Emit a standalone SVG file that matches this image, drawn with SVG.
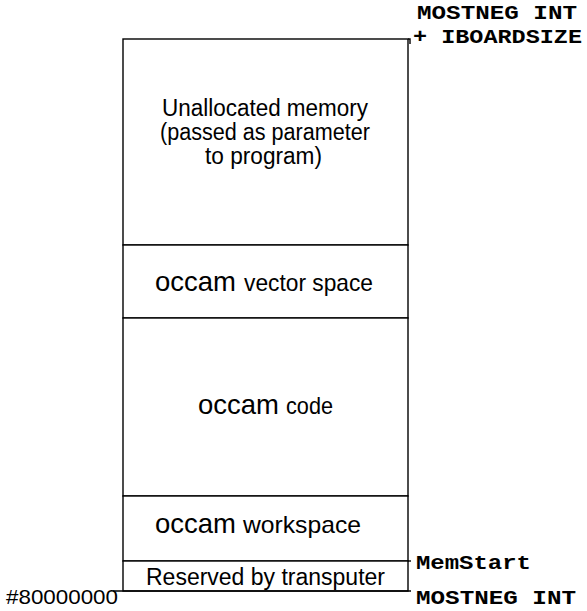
<svg xmlns="http://www.w3.org/2000/svg" width="587" height="611" viewBox="0 0 587 611">
<style>
.box{fill:#fff;stroke:#000;stroke-width:1.4}
.ln{fill:none;stroke:#000;stroke-width:1.4}
.s{font-family:"Liberation Sans",Arial,sans-serif;fill:#000}
.o{font-size:28.5px}
.w{font-size:24px}
.m{font-family:"Liberation Mono","Courier New",monospace;font-weight:bold;fill:#000;font-size:21px}
</style>
<rect width="587" height="611" fill="#fff"/>
<g id="unallocated">
<rect class="box" x="123" y="39" width="285" height="206"/>
<text class="s" font-size="23.5"><tspan x="162" y="116" textLength="206" lengthAdjust="spacingAndGlyphs">Unallocated memory</tspan><tspan x="160" y="140" textLength="210" lengthAdjust="spacingAndGlyphs">(passed as parameter</tspan><tspan x="205" y="164" textLength="117" lengthAdjust="spacingAndGlyphs">to program)</tspan></text>
</g>
<g id="vector">
<rect class="box" x="123" y="245" width="285" height="73"/>
<text class="s"><tspan class="o" x="155" y="291" textLength="81" lengthAdjust="spacingAndGlyphs">occam</tspan><tspan class="w" x="244" y="291" textLength="129" lengthAdjust="spacingAndGlyphs">vector space</tspan></text>
</g>
<g id="code">
<rect class="box" x="123" y="318" width="285" height="178"/>
<text class="s"><tspan class="o" x="198" y="414" textLength="81" lengthAdjust="spacingAndGlyphs">occam</tspan><tspan class="w" x="286" y="414" textLength="47" lengthAdjust="spacingAndGlyphs">code</tspan></text>
</g>
<g id="workspace">
<rect class="box" x="123" y="496" width="285" height="65"/>
<text class="s"><tspan class="o" x="155" y="533" textLength="81" lengthAdjust="spacingAndGlyphs">occam</tspan><tspan class="w" x="243" y="533" textLength="118" lengthAdjust="spacingAndGlyphs">workspace</tspan></text>
</g>
<g id="reserved">
<rect class="box" x="123" y="561" width="285" height="30"/>
<text class="s" x="146" y="585" font-size="23" textLength="239" lengthAdjust="spacingAndGlyphs">Reserved by transputer</text>
</g>
<g id="connectors">
<path class="ln" d="M408 39 H410 V44"/>
<path class="ln" d="M408 561 H411"/>
<path class="ln" d="M113 591 H411"/>
</g>
<g id="labels">
<text class="m" x="417" y="19" textLength="160" lengthAdjust="spacingAndGlyphs">MOSTNEG INT</text>
<text class="m" x="413" y="43" textLength="169" lengthAdjust="spacingAndGlyphs">+ IBOARDSIZE</text>
<text class="m" x="416" y="569" textLength="115" lengthAdjust="spacingAndGlyphs">MemStart</text>
<text class="m" x="416" y="604" textLength="160" lengthAdjust="spacingAndGlyphs">MOSTNEG INT</text>
<text class="s" x="6" y="604" font-size="21" textLength="112" lengthAdjust="spacingAndGlyphs">#80000000</text>
</g>
</svg>
